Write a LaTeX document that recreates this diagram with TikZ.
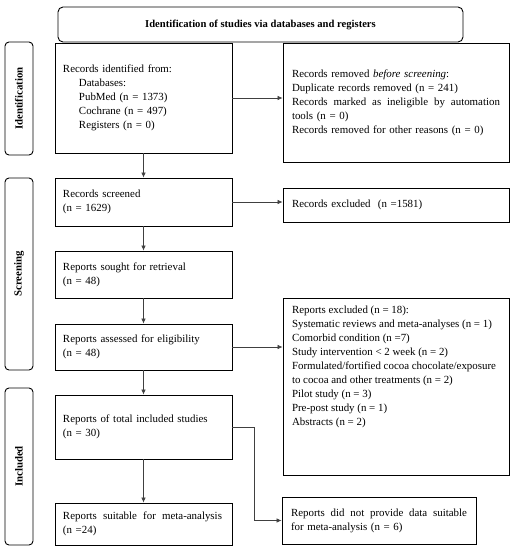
\documentclass[tikz,border=0pt]{standalone}
\usepackage{fontspec}
\setmainfont{Liberation Serif}
\usetikzlibrary{arrows.meta}
\begin{document}
\begin{tikzpicture}[x=1pt,y=-1pt,
  txt/.style={font=\fontsize{10.9}{14}\selectfont},
  box/.style={draw, line width=0.9pt, inner xsep=8pt, inner ysep=0pt, align=left, txt},
  lbox/.style={box, text width=161pt},
  rbox/.style={box, inner xsep=9pt, text width=208pt},
  side/.style={draw, line width=0.9pt, rounded corners=4pt, rotate=90, minimum height=28pt, inner sep=0pt, font=\bfseries\fontsize{10.8}{12}\selectfont},
  titlebox/.style={draw, line width=0.9pt, rounded corners=5pt, minimum width=405pt, minimum height=35pt, font=\bfseries\fontsize{10.6}{12}\selectfont},
  arr/.style={draw=black!75, line width=0.6pt, -{Latex[length=5pt,width=4.5pt]}}
]
\useasboundingbox (0,0) rectangle (515,550);

\node[titlebox] (title) at (260.5,24.5) {Identification of studies via databases and registers};

\node[side, minimum width=113pt] (sideI) at (19,98.5) {Identification};
\node[side, minimum width=192pt] (sideS) at (19,274) {Screening};
\node[side, minimum width=157pt] (sideN) at (19,466.5) {Included};

\node[lbox, minimum height=110pt] (ident) at (143.5,98) {Records identified from:\\
\hspace*{16pt}Databases:\\
\hspace*{16pt}PubMed (n = 1373)\\
\hspace*{16pt}Cochrane (n = 497)\\
\hspace*{16pt}Registers (n = 0)};

\node[rbox, minimum height=119pt] (removed) at (396,102.5) {Records removed \textit{before screening}:\\
Duplicate records removed (n = 241)\\
\makebox[208pt][l]{Records\hfill marked\hfill as\hfill ineligible\hfill by\hfill automation}\\
tools (n = 0)\\
Records removed for other reasons (n = 0)};

\node[lbox, minimum height=48pt] (screened) at (143.5,202) {Records screened\\(n = 1629)};
\node[rbox, minimum height=34pt] (excluded) at (396,205) {Records excluded\ \ (n =1581)};

\node[lbox, minimum height=47pt] (sought) at (143.5,274.5) {Reports sought for retrieval\\(n = 48)};
\node[lbox, minimum height=46pt] (assessed) at (143.5,347) {Reports assessed for eligibility\\(n = 48)};

\node[box, inner xsep=9pt] (repexcl) at (396,386.5) {\parbox[c][177pt][t]{208pt}{\vspace{8pt}%
Reports excluded (n = 18):\\
Systematic reviews and meta-analyses (n = 1)\\
Comorbid condition\ (n =7)\\
Study intervention \textless{} 2 week (n = 2)\\
Formulated/fortified cocoa chocolate/exposure\\
to cocoa and other treatments (n = 2)\\
Pilot study (n = 3)\\
Pre-post study (n = 1)\\
Abstracts (n = 2)}};

\node[lbox, minimum height=64pt] (total) at (143.5,427) {Reports of total included studies\\(n = 30)};
\node[lbox, minimum height=42pt] (suitable) at (143.5,524) {\makebox[159pt][l]{Reports\hfill suitable\hfill for\hfill meta-analysis}\\(n =24)};
\node[box, inner xsep=9pt, text width=176pt, minimum height=47pt] (notprov) at (379,520.5) {\makebox[176pt][l]{Reports\hfill did\hfill not\hfill provide\hfill data\hfill suitable}\\for meta-analysis (n = 6)};

\coordinate (bend) at (254,427);

\draw[arr] (ident.south) -- (screened.north);
\draw[arr] (screened.south) -- (sought.north);
\draw[arr] (sought.south) -- (assessed.north);
\draw[arr] (assessed.south) -- (total.north);
\draw[arr] (total.south) -- (suitable.north);
\draw[arr] (ident.east) -- (ident.east -| removed.west);
\draw[arr] (screened.east) -- (screened.east -| excluded.west);
\draw[arr] (assessed.east) -- (assessed.east -| repexcl.west);
\draw[arr] (total.east) -- (bend) |- (notprov.west);
\end{tikzpicture}
\end{document}
